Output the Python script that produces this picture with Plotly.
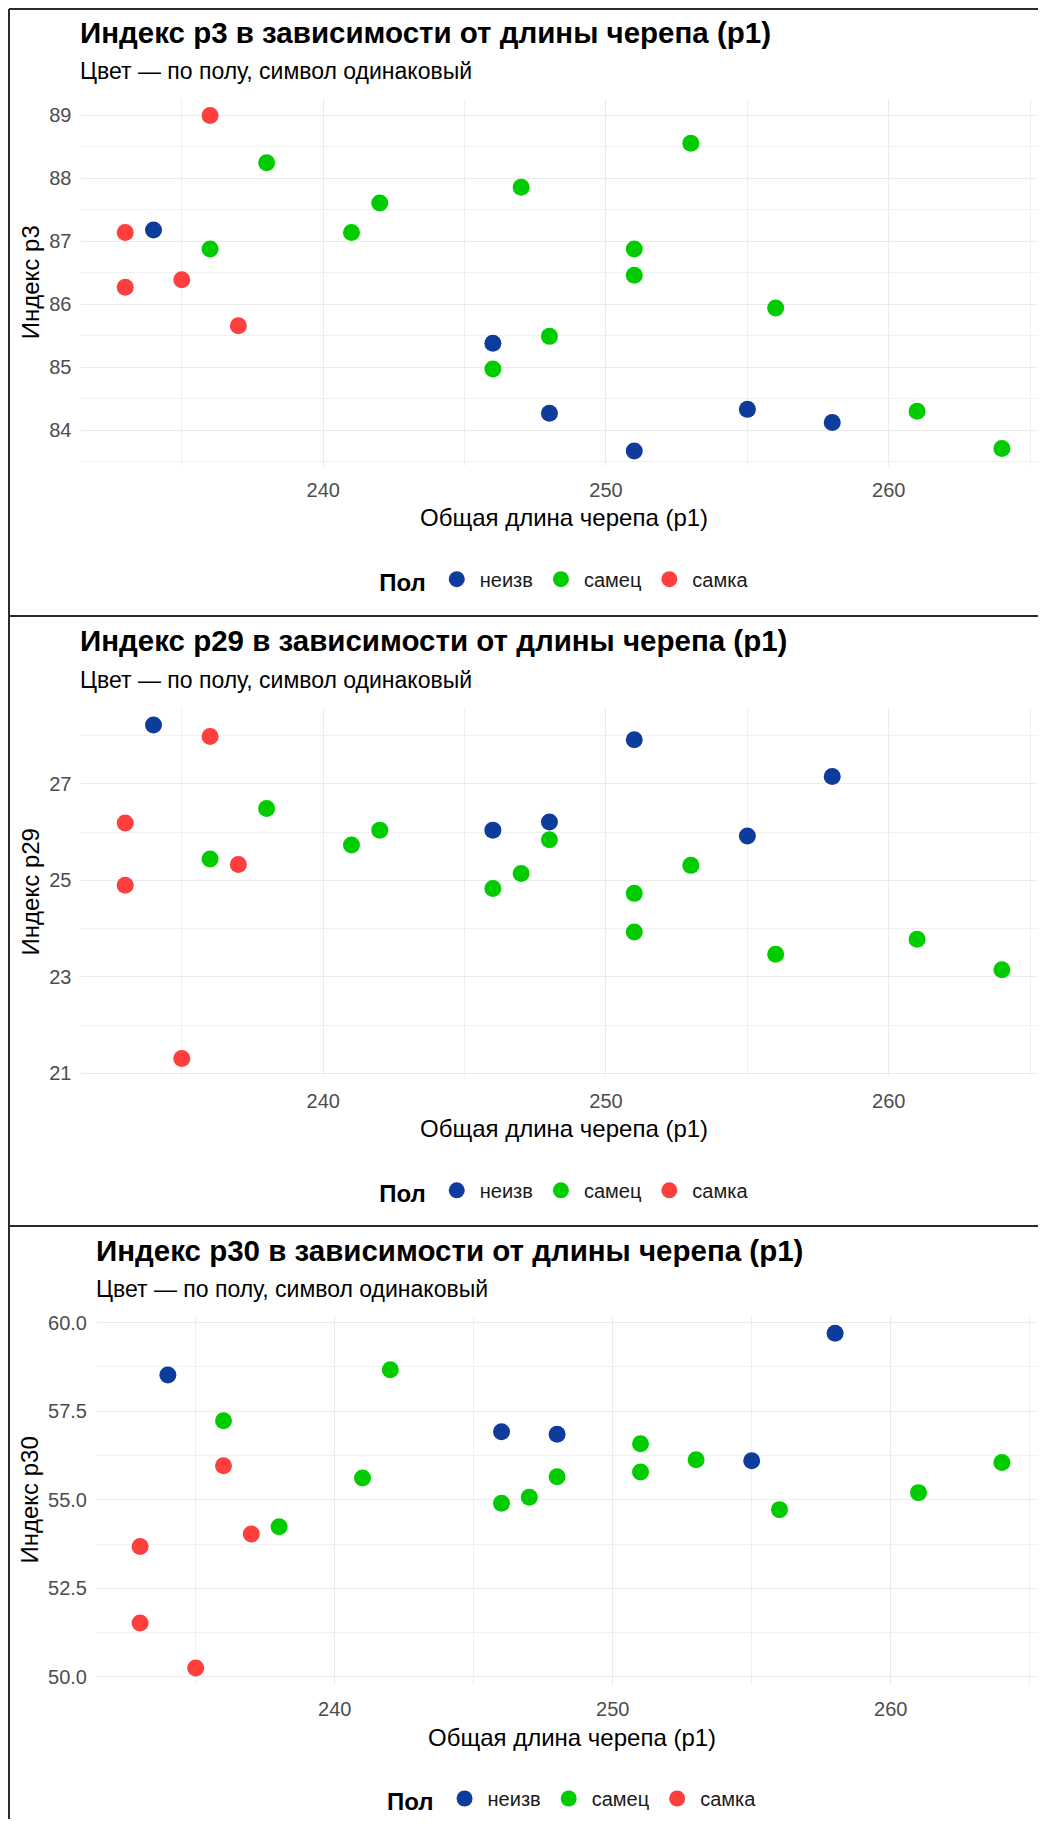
import plotly.graph_objects as go

# ---------------- data ----------------
sex_labels = ["неизв", "самец", "самка"]
sex_colors = ["#0E3C9C", "#00CC00", "#FF3E3E"]

# неизв
unk_p1 = [234, 246, 248, 251, 255, 258]
unk_p3 = [87.18, 85.38, 84.27, 83.67, 84.33, 84.12]
unk_p29 = [28.22, 26.04, 26.21, 27.91, 25.92, 27.15]
unk_p30 = [58.52, 56.92, 56.85, None, 56.10, 59.70]

# самец
male_p1 = [236, 238, 241, 242, 246, 247, 248, 251, 251, 253, 256, 261, 264]
male_p3 = [86.88, 88.25, 87.14, 87.61, 84.97, 87.86, 85.49, 86.88, 86.46, 88.56, 85.94, 84.30, 83.71]
male_p29 = [25.44, 26.49, 25.73, 26.04, 24.83, 25.14, 25.84, 24.73, 23.93, 25.31, 23.47, 23.78, 23.15]
male_p30 = [57.23, 54.24, 55.61, 58.67, 54.90, 55.07, 55.65, 56.58, 55.78, 56.13, 54.72, 55.20, 56.05]

# самка
fem_p1 = [233, 233, 235, 236, 237]
fem_p3 = [87.14, 86.27, 86.39, 89.00, 85.66]
fem_p29 = [26.19, 24.90, 21.31, 27.98, 25.33]
fem_p30 = [53.68, 51.52, 50.25, 55.96, 54.03]

panel_titles = [
    "Индекс p3 в зависимости от длины черепа (p1)",
    "Индекс p29 в зависимости от длины черепа (p1)",
    "Индекс p30 в зависимости от длины черепа (p1)",
]
subtitle = "Цвет — по полу, символ одинаковый"
x_title = "Общая длина черепа (p1)"
y_titles = ["Индекс p3", "Индекс p29", "Индекс p30"]
legend_title = "Пол"

x_ticks = [240, 250, 260]

# ---------------- layout helpers ----------------
PAGE_W, PAGE_H = 1046, 1827
M = 8  # default body margin of the html page
W, H = PAGE_W - 2 * M, PAGE_H - 2 * M
FONT = "Liberation Sans, Arial, sans-serif"


def px(x):
    return (x - M) / W


def py(y):
    return 1 - (y - M) / H


series = [
    (unk_p1, [unk_p3, unk_p29, unk_p30]),
    (male_p1, [male_p3, male_p29, male_p30]),
    (fem_p1, [fem_p3, fem_p29, fem_p30]),
]

# panel geometry (page pixels)
panels = [
    dict(left=81.4, unit=28.28, top=98.8, bottom=465.7, yr=[83.435, 89.265], dtick=1, fmt="d", off=0),
    dict(left=81.4, unit=28.28, top=708.0, bottom=1076.8, yr=[20.93, 28.57], dtick=2, fmt="d", off=609),
    dict(left=97.0, unit=27.8, top=1316.2, bottom=1685.0, yr=[49.77, 60.18], dtick=2.5, fmt=".1f", off=1218),
]
y_tick0 = [84, 21, 50]

fig = go.Figure()
annotations = []
shapes = []
legends = {}

right_px = M + W
for i, p in enumerate(panels):
    ax = "" if i == 0 else str(i + 1)
    leg = "legend" if i == 0 else f"legend{i + 1}"
    for k, (xs, ys_list) in enumerate(series):
        fig.add_trace(go.Scatter(
            x=xs, y=ys_list[i], mode="markers", name=sex_labels[k],
            marker=dict(color=sex_colors[k], size=17, line=dict(width=0)),
            xaxis="x" + ax, yaxis="y" + ax, legend=leg, showlegend=True,
        ))

    x_lo = 231.45
    x_hi = x_lo + (right_px - p["left"]) / p["unit"]
    xdom = [px(p["left"]), 1.0]
    ydom = [py(p["bottom"]), py(p["top"])]
    fig.layout["xaxis" + ax] = dict(
        domain=xdom, range=[x_lo, x_hi], anchor="y" + ax,
        tickmode="array", tickvals=x_ticks,
        showgrid=True, gridcolor="#EBEBEB", gridwidth=1.3,
        minor=dict(dtick=5, tick0=235, showgrid=True, gridcolor="#F0F0F0", gridwidth=1),
        zeroline=False, showline=False, ticks="", automargin=False,
        tickfont=dict(family=FONT, size=20, color="#4D4D4D"),
        ticklabelstandoff=10,
    )
    fig.layout["yaxis" + ax] = dict(
        domain=ydom, range=p["yr"], anchor="x" + ax,
        tick0=y_tick0[i], dtick=p["dtick"], tickformat=p["fmt"],
        showgrid=True, gridcolor="#EBEBEB", gridwidth=1.3,
        minor=dict(dtick=p["dtick"] / 2, showgrid=True, gridcolor="#F0F0F0", gridwidth=1),
        zeroline=False, showline=False, ticks="", automargin=False,
        tickfont=dict(family=FONT, size=20, color="#4D4D4D"),
        ticklabelstandoff=9,
    )

    off = p["off"]
    # title + subtitle
    annotations.append(dict(
        text="<b>" + panel_titles[i] + "</b>", xref="paper", yref="paper",
        x=px(p["left"] - 3), y=py(off + 32), xanchor="left", yanchor="middle",
        showarrow=False, font=dict(family=FONT, size=29.5, color="#000000"),
    ))
    annotations.append(dict(
        text=subtitle, xref="paper", yref="paper",
        x=px(p["left"] - 3), y=py(off + 71), xanchor="left", yanchor="middle",
        showarrow=False, font=dict(family=FONT, size=23, color="#000000"),
    ))
    # axis titles
    cx = (p["left"] + PAGE_W) / 2
    annotations.append(dict(
        text=x_title, xref="paper", yref="paper",
        x=px(cx), y=py(p["bottom"] + 52), xanchor="center", yanchor="middle",
        showarrow=False, font=dict(family=FONT, size=24, color="#000000"),
    ))
    annotations.append(dict(
        text=y_titles[i], xref="paper", yref="paper", textangle=-90,
        x=px(30), y=py((p["top"] + p["bottom"]) / 2), xanchor="center", yanchor="middle",
        showarrow=False, font=dict(family=FONT, size=24, color="#000000"),
    ))
    legends[leg] = dict(
        orientation="h", x=px(cx + 2), xanchor="center",
        y=py(p["bottom"] + 115), yanchor="middle",
        title=dict(text="<b>" + legend_title + "</b>", side="left",
                   font=dict(family=FONT, size=24, color="#000000")),
        font=dict(family=FONT, size=20, color="#1A1A1A"),
        itemwidth=36,
        bgcolor="rgba(0,0,0,0)", itemclick=False, itemdoubleclick=False,
    )

# panel frames
line = dict(color="#2B2B2B", width=2)
for yy in [9, 616, 1226]:
    shapes.append(dict(type="line", xref="paper", yref="paper",
                       x0=px(9), x1=1.0, y0=py(yy), y1=py(yy), line=line))
shapes.append(dict(type="line", xref="paper", yref="paper",
                   x0=px(9), x1=px(9), y0=py(9), y1=0, line=line))

fig.update_layout(
    width=W, height=H,
    margin=dict(l=0, r=0, t=0, b=0, pad=0, autoexpand=False),
    paper_bgcolor="white", plot_bgcolor="white",
    annotations=annotations, shapes=shapes,
    font=dict(family=FONT),
    **legends,
)

fig.write_html("out.html")
